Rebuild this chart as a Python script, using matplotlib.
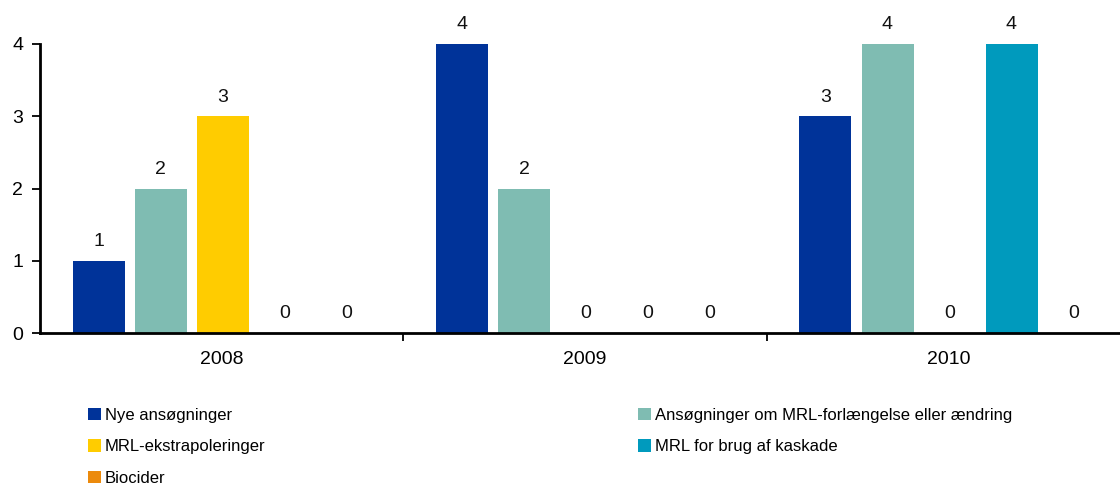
import matplotlib
matplotlib.use("Agg")
import matplotlib.pyplot as plt
from matplotlib.patches import Patch
import numpy as np

plt.rcParams['font.family'] = ['Liberation Sans', 'DejaVu Sans']

years = ["2008", "2009", "2010"]
series = [
    "Nye ansøgninger",
    "Ansøgninger om MRL-forlængelse eller ændring",
    "MRL-ekstrapoleringer",
    "MRL for brug af kaskade",
    "Biocider",
]
nye = [1, 4, 3]
forlaengelse = [2, 2, 4]
ekstrapolering = [3, 0, 0]
kaskade = [0, 0, 4]
biocider = [0, 0, 0]
values = [nye, forlaengelse, ekstrapolering, kaskade, biocider]
colors = ["#003399", "#7FBCB2", "#FFCC00", "#009ABD", "#EC8A0C"]
y_ticks = [0, 1, 2, 3, 4]

W, H = 1120, 487
fig = plt.figure(figsize=(W / 100, H / 100), dpi=100)

group_px = 363.4
left_px, right_px = 40, 1120
bottom_px, top_px = 333, 44
ax = fig.add_axes([left_px / W, (H - bottom_px) / H,
                   (right_px - left_px) / W, (bottom_px - top_px) / H])

step = 62 / group_px
width = 52 / group_px
shift = 1 / group_px
x = np.arange(len(years))
for i, (vals, col) in enumerate(zip(values, colors)):
    pos = x + (i - 2) * step + shift
    bars = ax.bar(pos, vals, width=width, color=col, edgecolor="none")
    for b, v in zip(bars, vals):
        ax.annotate(str(v), (b.get_x() + b.get_width() / 2, v),
                    xytext=(0, 13.7), textcoords="offset points",
                    ha="center", va="center", fontsize=14,
                    color="#111111", annotation_clip=False)

ax.set_xlim(-0.5, -0.5 + (right_px - left_px) / group_px)
ax.set_ylim(0, 4)
ax.set_yticks(y_ticks)
ax.tick_params(axis="y", direction="out", length=6, width=1.3,
               labelsize=14, pad=6)

# group boundary ticks and centred year labels
ax.set_xticks([0.5, 1.5])
ax.set_xticklabels([])
ax.tick_params(axis="x", which="major", direction="out", length=6, width=1.3)
ax.set_xticks(x, minor=True)
ax.set_xticklabels(years, minor=True)
ax.tick_params(axis="x", which="minor", length=0, labelsize=14, pad=13)

for s in ["top", "right"]:
    ax.spines[s].set_visible(False)
for s in ["left", "bottom"]:
    ax.spines[s].set_linewidth(2)
    ax.spines[s].set_color("black")

handles = [Patch(facecolor=c, edgecolor="none") for c in colors]
col1 = [0, 2, 4]
col2 = [1, 3]
leg_kw = dict(frameon=False, fontsize=12, handlelength=0.75, handleheight=0.75,
              handletextpad=0.25, labelspacing=0.98, borderaxespad=0,
              borderpad=0, loc="upper left")
leg1 = fig.legend([handles[i] for i in col1], [series[i] for i in col1],
                  bbox_to_anchor=(88 / W, 1 - 408 / H), **leg_kw)
leg2 = fig.legend([handles[i] for i in col2], [series[i] for i in col2],
                  bbox_to_anchor=(638 / W, 1 - 408 / H), **leg_kw)

fig.savefig("out.png", dpi=100)
